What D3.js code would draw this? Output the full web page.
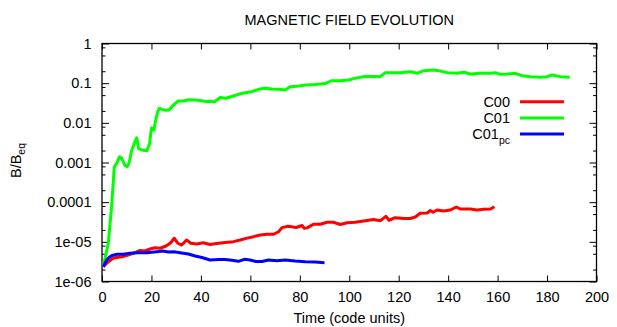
<!DOCTYPE html>
<html>
<head>
<meta charset="utf-8">
<script src="https://cdn.jsdelivr.net/npm/d3@7"></script>
<style>
  body { margin: 0; background: #fff; }
  svg { display: block; font-family: Helvetica, Arial, "Liberation Sans", sans-serif; }
</style>
</head>
<body>
<div id="chart"></div>
<script>
// values
const c00Time = [0.5, 2.55, 4.05, 5.26, 7.98, 10.6, 13.4, 15.4, 17.4, 19.4, 21.5, 23.5, 25.9, 27.7, 29.2, 30.7, 32.2, 34.2, 35.9, 38.3, 41.0, 43.7, 46.4, 49.8, 53.2, 55.9, 58.7, 61.3, 64.0, 66.7, 69.4, 71.4, 72.8, 75.3, 78.5, 80.9, 81.8, 83.0, 85.5, 88.3, 91.0, 93.6, 96.4, 99.1, 102.4, 105.8, 109.8, 112.6, 114.8, 116.1, 118.6, 121.9, 124.7, 126.7, 128.7, 131.5, 132.8, 133.9, 135.5, 138.2, 140.9, 143.3, 144.9, 149.0, 151.7, 154.4, 157.1, 158.7]
const c00Value = [2.36e-6, 3.16e-6, 3.7e-6, 3.98e-6, 4.22e-6, 4.66e-6, 5.33e-6, 6.05e-6, 5.88e-6, 6.6e-6, 7.1e-6, 6.9e-6, 7.86e-6, 9.35e-6, 1.23e-5, 9.2e-6, 8.3e-6, 1.11e-5, 9.2e-6, 8.8e-6, 9.5e-6, 8.6e-6, 9.1e-6, 9.6e-6, 1.01e-5, 1.11e-5, 1.24e-5, 1.35e-5, 1.49e-5, 1.55e-5, 1.55e-5, 1.8e-5, 2.28e-5, 2.47e-5, 2.3e-5, 2.58e-5, 2.2e-5, 2.25e-5, 2.77e-5, 2.77e-5, 3.11e-5, 3.11e-5, 2.74e-5, 3.04e-5, 3.11e-5, 3.36e-5, 3.66e-5, 3.41e-5, 4.4e-5, 3.5e-5, 4.06e-5, 3.88e-5, 3.88e-5, 4.23e-5, 5.25e-5, 5.33e-5, 6.17e-5, 5.56e-5, 6.35e-5, 6.0e-5, 6.35e-5, 7.55e-5, 6.73e-5, 6.73e-5, 6.35e-5, 6.6e-5, 6.73e-5, 7.7e-5]

const c01Time = [0.5, 2.55, 3.93, 4.98, 5.95, 7.1, 7.98, 9.3, 10.2, 11.05, 12.0, 13.1, 14.05, 14.8, 16.2, 18.1, 19.2, 20.0, 21.0, 21.7, 22.5, 23.2, 24.3, 25.9, 27.1, 28.9, 30.9, 32.9, 35.2, 37.7, 40.4, 42.4, 43.7, 45.5, 47.8, 50.2, 52.8, 55.2, 57.9, 60.6, 63.3, 66.0, 68.8, 71.4, 74.1, 76.1, 79.8, 82.2, 86.2, 90.3, 92.7, 96.4, 99.7, 101.7, 104.5, 106.5, 110.5, 112.6, 114.6, 117.4, 120.6, 124.7, 127.4, 130.1, 134.1, 136.8, 139.6, 143.6, 146.3, 149.0, 153.0, 157.1, 159.1, 161.1, 163.8, 167.2, 169.9, 173.3, 177.3, 180.0, 182.1, 185.4, 189.2]
const c01Value = [2.4e-6, 9.2e-6, 8.5e-5, 7.8e-4, 9.5e-4, 1.4e-3, 1.28e-3, 8.4e-4, 7.8e-4, 1.03e-3, 2.0e-3, 3.05e-3, 4.2e-3, 2.25e-3, 2.07e-3, 1.97e-3, 2.9e-3, 7.4e-3, 6.6e-3, 0.0115, 0.0188, 0.0233, 0.0217, 0.0207, 0.021, 0.0282, 0.0355, 0.0355, 0.0383, 0.0377, 0.0362, 0.0341, 0.035, 0.0341, 0.0435, 0.0416, 0.0467, 0.0524, 0.0575, 0.061, 0.070, 0.0743, 0.0713, 0.070, 0.0673, 0.0815, 0.0849, 0.090, 0.0925, 0.098, 0.115, 0.115, 0.120, 0.130, 0.141, 0.147, 0.148, 0.146, 0.184, 0.184, 0.184, 0.195, 0.177, 0.206, 0.215, 0.203, 0.184, 0.177, 0.188, 0.170, 0.177, 0.177, 0.184, 0.167, 0.170, 0.177, 0.154, 0.146, 0.141, 0.146, 0.161, 0.146, 0.141]

const c01pcTime = [0.5, 1.9, 2.8, 4.05, 6.1, 8.5, 11.3, 14.2, 18.1, 22.1, 24.7, 26.8, 29.1, 31.6, 34.9, 37.7, 40.4, 43.7, 47.1, 49.8, 52.5, 55.2, 57.5, 59.9, 62.3, 64.8, 67.3, 70.7, 74.1, 78.1, 82.1, 86.2, 90.0]
const c01pcValue = [2.36e-6, 3.49e-6, 4.03e-6, 4.53e-6, 4.85e-6, 4.87e-6, 5.14e-6, 5.33e-6, 5.33e-6, 5.65e-6, 5.88e-6, 5.55e-6, 5.65e-6, 5.33e-6, 4.94e-6, 4.4e-6, 4.03e-6, 3.49e-6, 3.59e-6, 3.59e-6, 3.45e-6, 3.23e-6, 3.63e-6, 3.49e-6, 3.2e-6, 3.2e-6, 3.49e-6, 3.33e-6, 3.49e-6, 3.29e-6, 3.16e-6, 3.1e-6, 2.98e-6]

const xTicks = [0, 20, 40, 60, 80, 100, 120, 140, 160, 180, 200]
const yTicks = [1, 0.1, 0.01, 0.001, 0.0001, 1e-5, 1e-6]
const yTickLabels = ['1', '0.1', '0.01', '0.001', '0.0001', '1e-05', '1e-06']
const yMinorSteps = [2, 5, 8]

const seriesNames = ['C00', 'C01', 'C01']
const seriesSubs = ['', '', 'pc']
const seriesColors = ['#ff0000', '#00ff00', '#0000ff']

const width = 617
const height = 327
const margin = {top: 43.5, right: 20.5, bottom: 45.5, left: 102}

const svg = d3.select('#chart').append('svg')
    .attr('width', width)
    .attr('height', height)

const x = d3.scaleLinear().domain([0, 200]).range([margin.left, width - margin.right])
const y = d3.scaleLog().domain([1e-6, 1]).range([height - margin.bottom, margin.top])

const yMinor = []
yTicks.slice(1).forEach(t => yMinorSteps.forEach(m => yMinor.push(t * m)))

// axes, ticks pointing inward like gnuplot
const fontSize = '14.5px'
function styleAxis(g) {
    g.select('.domain').remove()
    g.selectAll('line').attr('stroke', '#000').attr('stroke-width', 1)
    g.selectAll('text').attr('fill', '#000').style('font-size', fontSize)
}

svg.append('g')
    .attr('transform', `translate(0,${y(1e-6)})`)
    .call(d3.axisBottom(x).tickValues(xTicks).tickFormat(d3.format('d')).tickSizeInner(-6).tickSizeOuter(0).tickPadding(10))
    .call(styleAxis)
svg.append('g')
    .attr('transform', `translate(0,${y(1)})`)
    .call(d3.axisTop(x).tickValues(xTicks).tickFormat('').tickSizeInner(-6).tickSizeOuter(0))
    .call(styleAxis)

svg.append('g')
    .attr('transform', `translate(${x(0)},0)`)
    .call(d3.axisLeft(y).tickValues(yTicks).tickFormat((d, i) => yTickLabels[i]).tickSizeInner(-7).tickSizeOuter(0).tickPadding(10.5))
    .call(styleAxis)
svg.append('g')
    .attr('transform', `translate(${x(0)},0)`)
    .call(d3.axisLeft(y).tickValues(yMinor).tickFormat('').tickSizeInner(-3.5).tickSizeOuter(0))
    .call(styleAxis)
svg.append('g')
    .attr('transform', `translate(${x(200)},0)`)
    .call(d3.axisRight(y).tickValues(yTicks).tickFormat('').tickSizeInner(-7).tickSizeOuter(0))
    .call(styleAxis)
svg.append('g')
    .attr('transform', `translate(${x(200)},0)`)
    .call(d3.axisRight(y).tickValues(yMinor).tickFormat('').tickSizeInner(-3.5).tickSizeOuter(0))
    .call(styleAxis)

// frame
svg.append('rect')
    .attr('x', x(0)).attr('y', y(1))
    .attr('width', x(200) - x(0)).attr('height', y(1e-6) - y(1))
    .attr('fill', 'none').attr('stroke', '#000').attr('stroke-width', 1.3)

// curves
const line = d3.line().x(d => x(d[0])).y(d => y(d[1]))
const series = [
    d3.zip(c00Time, c00Value),
    d3.zip(c01Time, c01Value),
    d3.zip(c01pcTime, c01pcValue)
]
series.forEach((s, i) => {
    svg.append('path')
        .datum(s)
        .attr('d', line)
        .attr('fill', 'none')
        .attr('stroke', seriesColors[i])
        .attr('stroke-width', 3)
        .attr('stroke-linejoin', 'round')
})

// legend
const legend = svg.append('g')
seriesNames.forEach((name, i) => {
    const ly = 101.7 + i * 16.2
    const t = legend.append('text')
        .attr('x', 510).attr('y', ly + 5)
        .attr('text-anchor', 'end')
        .style('font-size', fontSize)
        .text(name)
    if (seriesSubs[i]) {
        t.text(null)
        t.append('tspan').text(name)
        t.append('tspan').attr('dy', 5).style('font-size', '10.5px').text(seriesSubs[i])
    }
    legend.append('line')
        .attr('x1', 520).attr('x2', 564)
        .attr('y1', ly).attr('y2', ly)
        .attr('stroke', seriesColors[i])
        .attr('stroke-width', 3)
})

// titles
svg.append('text')
    .attr('x', (x(0) + x(200)) / 2).attr('y', 24.5)
    .attr('text-anchor', 'middle')
    .style('font-size', '14.5px')
    .text('MAGNETIC FIELD EVOLUTION')

svg.append('text')
    .attr('x', (x(0) + x(200)) / 2).attr('y', 323)
    .attr('text-anchor', 'middle')
    .style('font-size', fontSize)
    .text('Time (code units)')

const yl = svg.append('text')
    .attr('transform', `translate(20.5,${(y(1) + y(1e-6)) / 2 - 2}) rotate(-90)`)
    .attr('text-anchor', 'middle')
    .style('font-size', fontSize)
yl.append('tspan').text('B/B')
yl.append('tspan').attr('dy', 4).style('font-size', '10.5px').text('eq')
</script>
</body>
</html>
